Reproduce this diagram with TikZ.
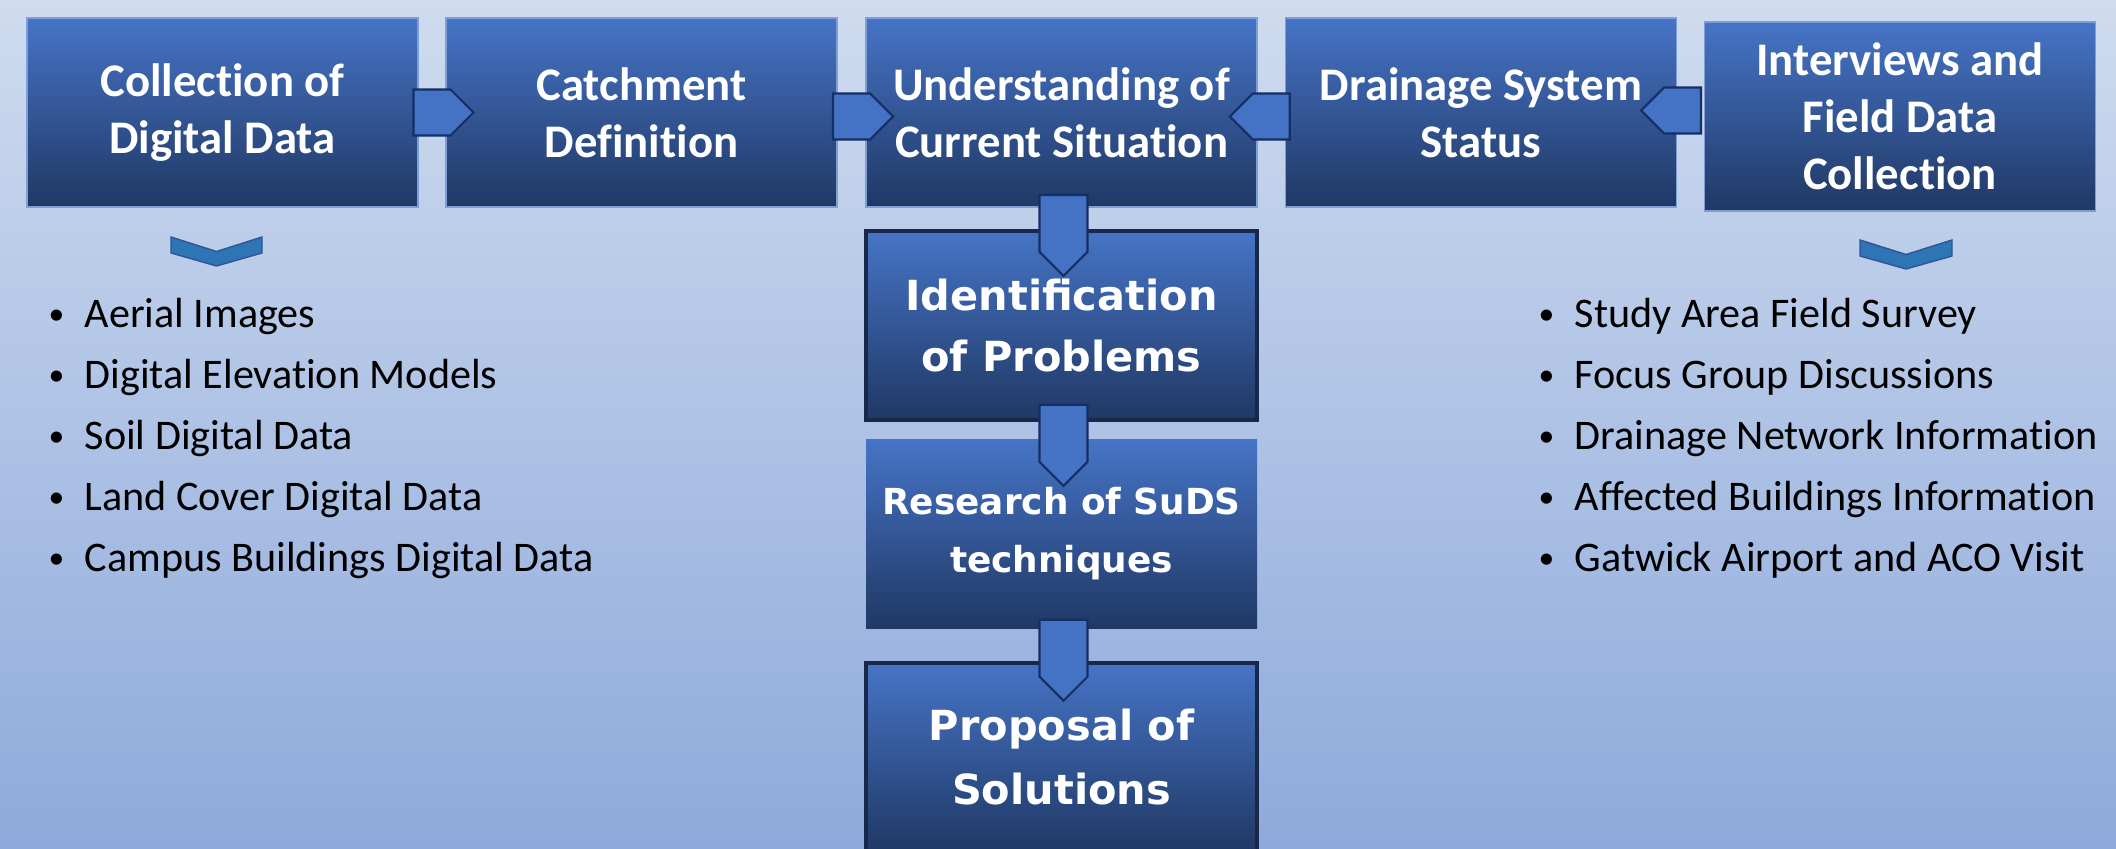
\documentclass[tikz,border=0pt]{standalone}
\usepackage{fontspec}
\setmainfont[Ligatures=NoCommon]{Carlito}
\newfontfamily\widefont{DejaVu Sans}
\usepackage{tikz}
\usetikzlibrary{shapes.symbols, calc}

\definecolor{bgtop}{HTML}{CFDCEF}
\definecolor{bgbot}{HTML}{8EA9DB}
\definecolor{boxtop}{HTML}{4674C6}
\definecolor{boxbot}{HTML}{203864}
\definecolor{boxedge}{HTML}{7F9DD6}
\definecolor{navyline}{HTML}{17284A}
\definecolor{arrowfill}{HTML}{4472C4}
\definecolor{arrowline}{HTML}{142F66}
\definecolor{chevfill}{HTML}{2E75B6}
\definecolor{chevline}{HTML}{2F5597}

\tikzset{
  stage/.style={rectangle, minimum width=3.91cm, minimum height=1.89cm, inner sep=0pt,
    top color=boxtop, bottom color=boxbot, draw=boxedge, line width=0.3pt,
    text=white, align=center, font=\bfseries\fontsize{13.3}{16.2}\selectfont},
  keystage/.style={stage, draw=navyline, line width=0.9pt},
  flowarrow/.style={signal, signal pointer angle=90, inner sep=0pt,
    fill=arrowfill, draw=arrowline, line width=0.6pt},
  chev/.style={fill=chevfill, draw=chevline, line width=0.4pt},
  item/.style={anchor=base west, inner sep=0pt, font=\fontsize{12}{14}\selectfont}
}
\newcommand{\bul}[1]{\makebox[3.6mm][l]{\raisebox{0.06em}{\scalebox{0.75}{\textbullet}}}#1}

\begin{document}
\begin{tikzpicture}
    \useasboundingbox (0,0) rectangle (21.16,8.48);
    \shade[top color=bgtop, bottom color=bgbot] (0,0) rectangle (21.16,8.48);

    % Top row
    \node[stage] (coll) at (2.225,7.355) {Collection of\\Digital Data};
    \node[stage] (catch) at (6.415,7.355) {Catchment\\Definition};
    \node[stage] (under) at (10.615,7.355) {Understanding of\\Current Situation};
    \node[stage] (drain) at (14.81,7.355) {Drainage System\\Status};
    \node[stage] (field) at (19.00,7.315) {Interviews and\\Field Data\\Collection};

    % Middle column
    \node[keystage, font=\widefont\bfseries\fontsize{11.8}{17.6}\selectfont] (ident) at (10.615,5.225) {Identification\\of Problems};
    \node[stage, draw=none, font=\widefont\bfseries\fontsize{10.2}{16.5}\selectfont] (suds) at (10.615,3.14) {Research of SuDS\\techniques};
    \node[keystage, font=\widefont\bfseries\fontsize{11.8}{18.2}\selectfont] (prop) at (10.615,0.905) {Proposal of\\Solutions};

    % Block arrows
    \node[flowarrow, signal to=east, minimum width=0.6cm, minimum height=0.46cm] (a1) at ($(coll.east)!0.5!(catch.west)$) {};
    \node[flowarrow, signal to=east, minimum width=0.6cm, minimum height=0.46cm] (a2) at ($(catch.east)!0.5!(under.west)+(0,-0.04)$) {};
    \node[flowarrow, signal to=west, minimum width=0.6cm, minimum height=0.46cm] (a3) at ($(drain.west)!0.5!(under.east)+(0,-0.04)$) {};
    \node[flowarrow, signal to=west, minimum width=0.6cm, minimum height=0.46cm] (a4) at ($(field.west)!0.5!(drain.east)+(-0.08,0.04)$) {};
    \node[flowarrow, signal to=south, minimum width=0.48cm, minimum height=0.57cm] (d1) at ($(under.south)!0.5!(ident.north)+(0.02,-0.05)$) {};
    \node[flowarrow, signal to=south, minimum width=0.48cm, minimum height=0.57cm] (d2) at ($(ident.south)!0.5!(suds.north)+(0.02,-0.03)$) {};
    \node[flowarrow, signal to=south, minimum width=0.48cm, minimum height=0.57cm] (d3) at ($(suds.south)!0.5!(prop.north)+(0.02,-0.03)$) {};

    % Chevrons
    \draw[chev] (1.71,6.11) -- ++(0.455,-0.145) -- ++(0.455,0.145) -- ++(0,-0.16)
        -- ++(-0.455,-0.13) -- ++(-0.455,0.13) -- cycle;
    \draw[chev] (18.60,6.08) -- ++(0.46,-0.145) -- ++(0.46,0.145) -- ++(0,-0.16)
        -- ++(-0.46,-0.13) -- ++(-0.46,0.13) -- cycle;

    % Digital data
    \node[item] (l1) at (0.48,5.21) {\bul{Aerial Images}};
    \node[item] (l2) at (0.48,4.60) {\bul{Digital Elevation Models}};
    \node[item] (l3) at (0.48,3.99) {\bul{Soil Digital Data}};
    \node[item] (l4) at (0.48,3.38) {\bul{Land Cover Digital Data}};
    \node[item] (l5) at (0.48,2.77) {\bul{Campus Buildings Digital Data}};

    % Field data
    \node[item] (r1) at (15.38,5.21) {\bul{Study Area Field Survey}};
    \node[item] (r2) at (15.38,4.60) {\bul{Focus Group Discussions}};
    \node[item] (r3) at (15.38,3.99) {\bul{Drainage Network Information}};
    \node[item] (r4) at (15.38,3.38) {\bul{Affected Buildings Information}};
    \node[item] (r5) at (15.38,2.77) {\bul{Gatwick Airport and ACO Visit}};
\end{tikzpicture}
\end{document}
